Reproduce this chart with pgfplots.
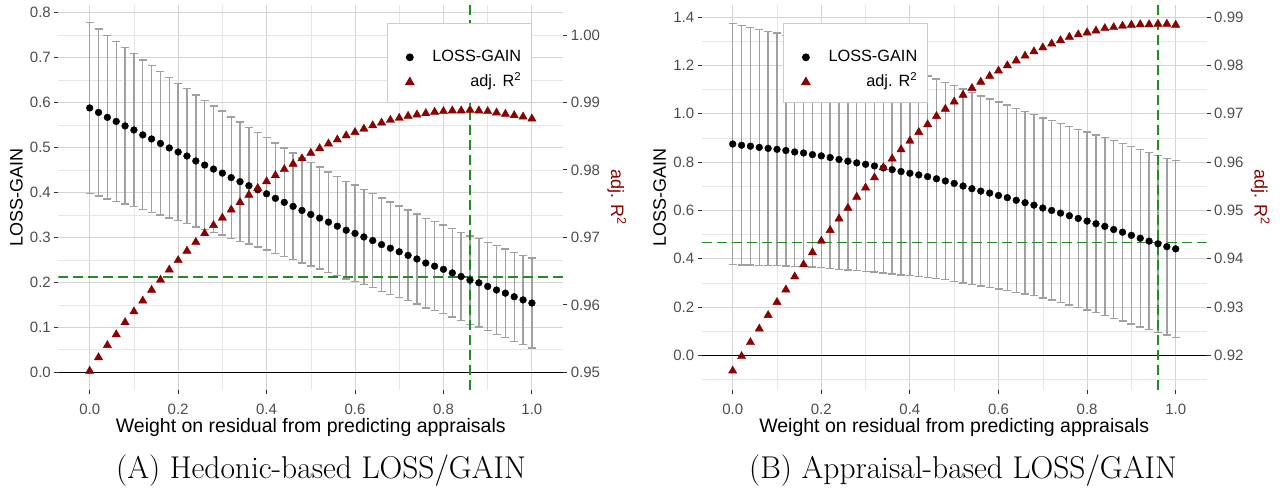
\documentclass[border=0pt]{standalone}
\usepackage{fontspec}
\setsansfont{Liberation Sans}
\usepackage{pgfplots}
\usepackage{pgfplotstable}
\pgfplotsset{compat=1.18}

\definecolor{dred}{HTML}{8B0000}
\definecolor{dgreen}{HTML}{228B22}
\definecolor{errgray}{HTML}{A0A0A0}
\definecolor{gridmaj}{HTML}{D4D4D4}
\definecolor{gridmin}{HTML}{E6E6E6}
\definecolor{ticktext}{HTML}{4D4D4D}
\definecolor{tickdark}{HTML}{333333}
\definecolor{legbox}{HTML}{CCCCCC}

\newcommand{\legfont}{\sffamily\fontsize{16.3}{19}\selectfont}
\newcommand{\xlabfont}{\sffamily\fontsize{19.5}{22}\selectfont}
\newcommand{\ylabfont}{\sffamily\fontsize{18}{21}\selectfont}

% x = weight, lg = LOSS-GAIN, err = half width of bar, r2 = adj. R^2
\pgfplotstableread{
x lg err r2
0.00 0.588 0.1900 0.9502
0.02 0.578 0.1858 0.9522
0.04 0.567 0.1818 0.9540
0.06 0.558 0.1778 0.9556
0.08 0.548 0.1740 0.9574
0.10 0.539 0.1702 0.9590
0.12 0.528 0.1665 0.9606
0.14 0.519 0.1630 0.9622
0.16 0.509 0.1595 0.9637
0.18 0.499 0.1561 0.9652
0.20 0.490 0.1528 0.9666
0.22 0.481 0.1496 0.9680
0.24 0.470 0.1465 0.9693
0.26 0.461 0.1435 0.9706
0.28 0.452 0.1406 0.9718
0.30 0.443 0.1378 0.9729
0.32 0.433 0.1351 0.9741
0.34 0.424 0.1325 0.9752
0.36 0.415 0.1300 0.9763
0.38 0.406 0.1275 0.9773
0.40 0.397 0.1252 0.9783
0.42 0.387 0.1230 0.9792
0.44 0.378 0.1208 0.9801
0.46 0.369 0.1188 0.9809
0.48 0.360 0.1168 0.9817
0.50 0.351 0.1150 0.9825
0.52 0.343 0.1132 0.9832
0.54 0.334 0.1116 0.9839
0.56 0.325 0.1100 0.9845
0.58 0.316 0.1086 0.9851
0.60 0.309 0.1072 0.9856
0.62 0.301 0.1059 0.9861
0.64 0.293 0.1048 0.9866
0.66 0.284 0.1037 0.9870
0.68 0.276 0.1027 0.9874
0.70 0.268 0.1018 0.9877
0.72 0.260 0.1010 0.9880
0.74 0.252 0.1003 0.9882
0.76 0.243 0.0997 0.9884
0.78 0.236 0.0992 0.9886
0.80 0.229 0.0988 0.9887
0.82 0.221 0.0985 0.9888
0.84 0.213 0.0983 0.9888
0.86 0.205 0.0982 0.9889
0.88 0.199 0.0981 0.9888
0.90 0.191 0.0982 0.9887
0.92 0.183 0.0984 0.9885
0.94 0.176 0.0986 0.9883
0.96 0.168 0.0990 0.9881
0.98 0.161 0.0994 0.9879
1.00 0.154 0.1000 0.9876
}\tabA

\pgfplotstableread{
x lg err r2
0.00 0.875 0.5000 0.9168
0.02 0.870 0.4962 0.9198
0.04 0.866 0.4924 0.9227
0.06 0.861 0.4886 0.9255
0.08 0.857 0.4848 0.9283
0.10 0.853 0.4810 0.9310
0.12 0.848 0.4772 0.9336
0.14 0.842 0.4734 0.9363
0.16 0.838 0.4696 0.9388
0.18 0.831 0.4658 0.9413
0.20 0.826 0.4620 0.9437
0.22 0.819 0.4582 0.9459
0.24 0.811 0.4544 0.9483
0.26 0.804 0.4506 0.9505
0.28 0.797 0.4468 0.9528
0.30 0.791 0.4430 0.9547
0.32 0.784 0.4392 0.9568
0.34 0.776 0.4354 0.9589
0.36 0.769 0.4316 0.9607
0.38 0.761 0.4278 0.9626
0.40 0.754 0.4240 0.9644
0.42 0.747 0.4202 0.9662
0.44 0.740 0.4164 0.9678
0.46 0.731 0.4126 0.9695
0.48 0.722 0.4088 0.9710
0.50 0.712 0.4050 0.9725
0.52 0.701 0.4012 0.9739
0.54 0.690 0.3974 0.9753
0.56 0.680 0.3936 0.9766
0.58 0.672 0.3898 0.9778
0.60 0.662 0.3870 0.9789
0.62 0.653 0.3835 0.9800
0.64 0.642 0.3805 0.9810
0.66 0.632 0.3775 0.9820
0.68 0.622 0.3750 0.9829
0.70 0.610 0.3730 0.9837
0.72 0.600 0.3715 0.9845
0.74 0.589 0.3700 0.9852
0.76 0.578 0.3690 0.9859
0.78 0.567 0.3685 0.9864
0.80 0.556 0.3680 0.9868
0.82 0.545 0.3680 0.9872
0.84 0.534 0.3680 0.9877
0.86 0.521 0.3675 0.9879
0.88 0.510 0.3670 0.9882
0.90 0.497 0.3670 0.9884
0.92 0.485 0.3670 0.9885
0.94 0.473 0.3665 0.9885
0.96 0.462 0.3665 0.9886
0.98 0.450 0.3660 0.9886
1.00 0.441 0.3660 0.9884
}\tabB

\pgfplotsset{
  base/.style={
    scale only axis, width=505pt, height=384.8pt, anchor=south west,
    axis line style={draw=none},
    tick align=outside, major tick length=4pt, minor tick length=0pt,
    tick style={color=tickdark, line width=1pt},
    ticklabel style={font=\sffamily\fontsize{15}{17}\selectfont, color=ticktext},
    /pgf/number format/fixed, /pgf/number format/fixed zerofill,
    /pgf/number format/precision=1, /pgf/number format/assume math mode=true,
  },
  leftax/.style={
    base, tick pos=left, grid=both,
    major grid style={color=gridmaj, line width=1pt},
    minor grid style={color=gridmin, line width=0.6pt},
    xtick={0,0.2,0.4,0.6,0.8,1}, minor xtick={0.1,0.3,0.5,0.7,0.9},
    xticklabel style={anchor=base, yshift=-20.2pt},
    xlabel={Weight on residual from predicting appraisals},
    ylabel={LOSS-GAIN},
    xlabel style={font=\xlabfont, at={(axis description cs:0.5,0)},
      yshift=-42.5pt, anchor=base},
    ylabel style={font=\ylabfont, at={(axis description cs:-0.083,0.5)},
      anchor=center},
  },
  rightax/.style={
    base, axis x line=none, axis y line*=right,
    /pgf/number format/precision=2,
    ylabel={adj. R\textsuperscript{2}},
    ylabel style={font=\ylabfont, at={(axis description cs:1.106,0.5)},
      anchor=center, rotate=180, color=dred},
    legend cell align=right,
    legend style={draw=legbox, line width=1pt, fill=white,
      inner xsep=10.6pt, inner ysep=13pt, row sep=10pt,
      font=\legfont,
      nodes={inner sep=0pt, text height=12pt, text depth=3pt}},
  },
  legimg/.style={legend image code/.code={
    \path[draw=none, fill=none] (0pt,-3pt) rectangle (34.4pt,3pt);
    \draw[##1] plot coordinates {(11.8pt,0pt)};}},
  bars/.style={draw=none, mark=none, forget plot,
    error bars/.cd, y dir=both, y explicit, error mark=|,
    error bar style={draw=errgray, line width=1.4pt},
    error mark options={draw=errgray, line width=1.4pt, mark size=4pt}},
  dots/.style={only marks, mark=*, mark size=3.4pt, color=black},
  tris/.style={only marks, mark=triangle*, mark size=4.8pt, color=dred},
  guide/.style={dgreen, line width=1.8pt, dash pattern=on 10pt off 5pt, forget plot},
  zero/.style={black, line width=1.2pt, forget plot},
}

\begin{document}
\begin{tikzpicture}
\path[use as bounding box] (0pt,0pt) rectangle (1280pt,496pt);

% ---- panel A ----
\begin{axis}[leftax, at={(58.3pt,106.2pt)},
  xmin=-0.071, xmax=1.071, ymin=-0.039, ymax=0.817,
  ytick={0,0.1,0.2,0.3,0.4,0.5,0.6,0.7,0.8},
  minor ytick={0.05,0.15,0.25,0.35,0.45,0.55,0.65,0.75}]
\addplot[bars] table[x=x, y=lg, y error=err] {\tabA};
\addplot[zero] coordinates {(-0.071,0) (1.071,0)};
\addplot[guide] coordinates {(-0.071,0.212) (1.071,0.212)};
\addplot[guide] coordinates {(0.86,-0.039) (0.86,0.817)};
\addplot[dots] table[x=x, y=lg] {\tabA};
\end{axis}
\begin{axis}[rightax, at={(58.3pt,106.2pt)},
  xmin=-0.071, xmax=1.071, ymin=0.9474, ymax=1.00447,
  ytick={0.95,0.96,0.97,0.98,0.99,1.00},
  legend style={at={(0.9386,0.9524)}, anchor=north east}]
\addlegendimage{empty legend}
\addlegendentry[text height=3pt, text depth=0pt]{}
\addlegendimage{dots, legimg}
\addlegendentry{LOSS-GAIN}
\addplot[tris, legimg] table[x=x, y=r2] {\tabA};
\addlegendentry{adj. R\textsuperscript{2}}
\end{axis}

% ---- panel B ----
\begin{axis}[leftax, at={(701.7pt,106.2pt)},
  xmin=-0.07, xmax=1.07, ymin=-0.1425, ymax=1.4505,
  ytick={0,0.2,0.4,0.6,0.8,1.0,1.2,1.4},
  minor ytick={-0.1,0.1,0.3,0.5,0.7,0.9,1.1,1.3}]
\addplot[bars] table[x=x, y=lg, y error=err] {\tabB};
\addplot[zero] coordinates {(-0.07,0) (1.07,0)};
\addplot[guide] coordinates {(-0.07,0.467) (1.07,0.467)};
\addplot[guide] coordinates {(0.96,-0.1425) (0.96,1.4505)};
\addplot[dots] table[x=x, y=lg] {\tabB};
\end{axis}
\begin{axis}[rightax, at={(701.7pt,106.2pt)},
  xmin=-0.07, xmax=1.07, ymin=0.912875, ymax=0.992525,
  ytick={0.92,0.93,0.94,0.95,0.96,0.97,0.98,0.99},
  legend style={at={(0.161,0.9524)}, anchor=north west}]
\addlegendimage{empty legend}
\addlegendentry[text height=3pt, text depth=0pt]{}
\addlegendimage{dots, legimg}
\addlegendentry{LOSS-GAIN}
\addplot[tris, legimg] table[x=x, y=r2] {\tabB};
\addlegendentry{adj. R\textsuperscript{2}}
\end{axis}

% captions
\node[font=\rmfamily\fontsize{31.5}{36}\selectfont, anchor=base] at (321pt,18pt)
  {(A) Hedonic-based LOSS/GAIN};
\node[font=\rmfamily\fontsize{31.5}{36}\selectfont, anchor=base] at (963pt,18pt)
  {(B) Appraisal-based LOSS/GAIN};
\end{tikzpicture}
\end{document}
